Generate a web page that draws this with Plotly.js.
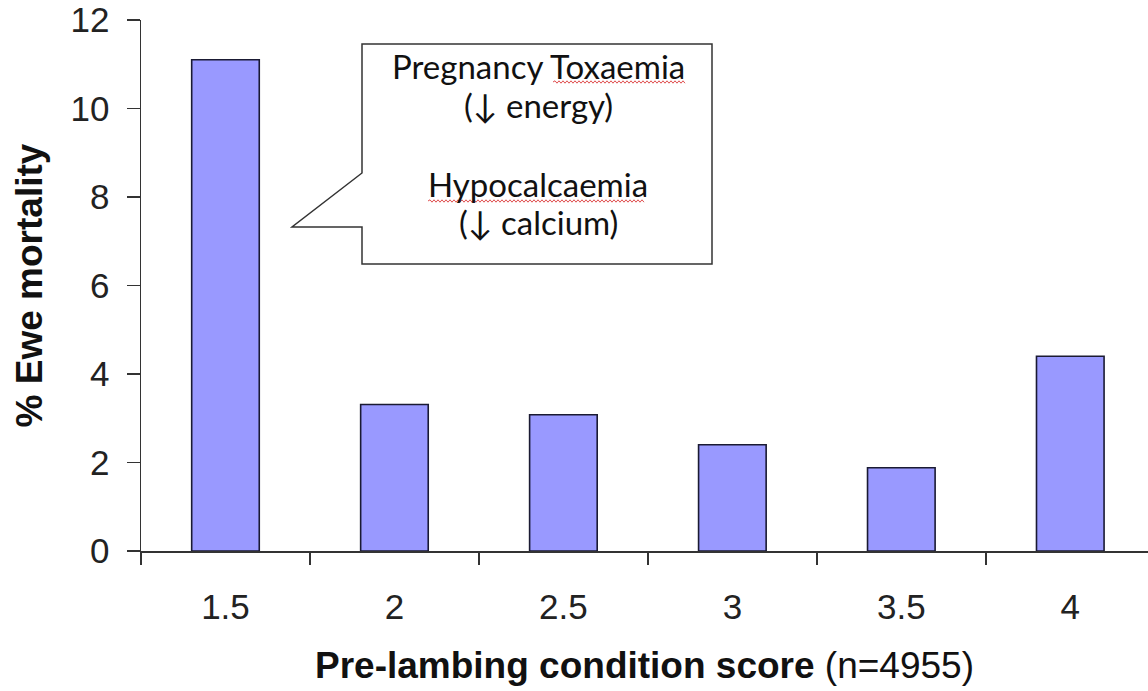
<!DOCTYPE html>
<html><head><meta charset="utf-8">
<script src="https://cdn.plot.ly/plotly-3.0.1.min.js"></script>
<style>body{margin:0;background:#fff}#chart{width:1148px;height:691px}</style>
</head><body><div id="chart"></div>
<script>
// ---- data ----
const scores = ["1.5", "2", "2.5", "3", "3.5", "4"];
const mortality = [11.1, 3.31, 3.08, 2.40, 1.88, 4.40];
const yTicks = [0, 2, 4, 6, 8, 10, 12];
const xTitle = "<b>Pre-lambing condition score</b> (n=4955)";
const yTitle = "<b>% Ewe mortality</b>";
const calloutLines = ["Pregnancy Toxaemia", "(\u2193 energy)", "Hypocalcaemia", "(\u2193 calcium)"];

// ---- layout geometry (pixels) ----
const W = 1148, H = 691, L = 141, R = 0, T = 20, B = 140;
const pw = W - L - R, ph = H - T - B;
const px = v => (v - L) / pw;           // pixel x -> paper
const py = v => (H - B - v) / ph;       // pixel y -> paper

// callout box with pointer
const box = {x0: 362, x1: 712, y0: 44, y1: 264, pTop: 173, pBot: 227, tipX: 292};
const calloutPath =
  `M ${px(box.x0)},${py(box.y0)} L ${px(box.x1)},${py(box.y0)} L ${px(box.x1)},${py(box.y1)} ` +
  `L ${px(box.x0)},${py(box.y1)} L ${px(box.x0)},${py(box.pBot)} L ${px(box.tipX)},${py(box.pBot)} ` +
  `L ${px(box.x0)},${py(box.pTop)} Z`;
const lineY = [66, 105, 184, 222];
const textX = 538;

function squiggle(x0, x1, y) {
  let d = `M ${px(x0)},${py(y)}`;
  let k = 0;
  for (let x = x0 + 2; x <= x1; x += 2) {
    k++;
    d += ` L ${px(x)},${py(y + (k % 2 ? -1.2 : 1.2))}`;
  }
  return d;
}

const trace = {
  type: 'bar', x: scores, y: mortality, width: 0.4,
  marker: {color: '#9999ff', line: {color: '#1a1a33', width: 1.6}},
  hoverinfo: 'x+y'
};

const axisFont = {family: 'Liberation Sans, Arial, sans-serif', size: 35, color: '#222'};

const layout = {
  width: W, height: H,
  margin: {l: L, r: R, t: T, b: B, pad: 0},
  paper_bgcolor: '#ffffff', plot_bgcolor: '#ffffff',
  showlegend: false,
  xaxis: {
    type: 'category', range: [-0.5, 5.46], tickson: 'boundaries',
    ticks: 'outside', ticklen: 12, tickwidth: 1.5, tickcolor: '#333',
    showline: true, linecolor: '#333', linewidth: 1.5,
    showgrid: false, zeroline: false,
    tickfont: axisFont, ticklabelstandoff: 24,
    title: {text: xTitle, font: {family: 'Liberation Sans, Arial, sans-serif', size: 37, color: '#111'}, standoff: 27},
    automargin: false, fixedrange: true
  },
  yaxis: {
    range: [0, 12], tickmode: 'array', tickvals: yTicks, ticktext: yTicks.map(String),
    ticks: 'outside', ticklen: 13, tickwidth: 1.5, tickcolor: '#333',
    showline: true, linecolor: '#333', linewidth: 1.5,
    showgrid: false, zeroline: false,
    tickfont: axisFont, ticklabelstandoff: 10,
    title: {text: yTitle, font: {family: 'Liberation Sans, Arial, sans-serif', size: 37, color: '#111'}, standoff: 16},
    automargin: false, fixedrange: true
  },
  shapes: [
    {type: 'path', xref: 'paper', yref: 'paper', path: calloutPath,
     fillcolor: '#ffffff', line: {color: '#333', width: 1.5}},
    {type: 'path', xref: 'paper', yref: 'paper', path: squiggle(553, 686, 82),
     line: {color: '#e05050', width: 1}},
    {type: 'path', xref: 'paper', yref: 'paper', path: squiggle(428, 645, 201),
     line: {color: '#e05050', width: 1}}
  ],
  annotations: calloutLines.map((t, i) => ({
    xref: 'paper', yref: 'paper', x: px(textX), y: py(lineY[i]),
    xanchor: 'center', yanchor: 'middle', showarrow: false, align: 'center',
    text: t,
    font: {family: 'Lato, Carlito, Calibri, sans-serif', size: 33, color: '#111'}
  }))
};

Plotly.newPlot('chart', [trace], layout, {displayModeBar: false, staticPlot: true});
</script>
</body></html>
